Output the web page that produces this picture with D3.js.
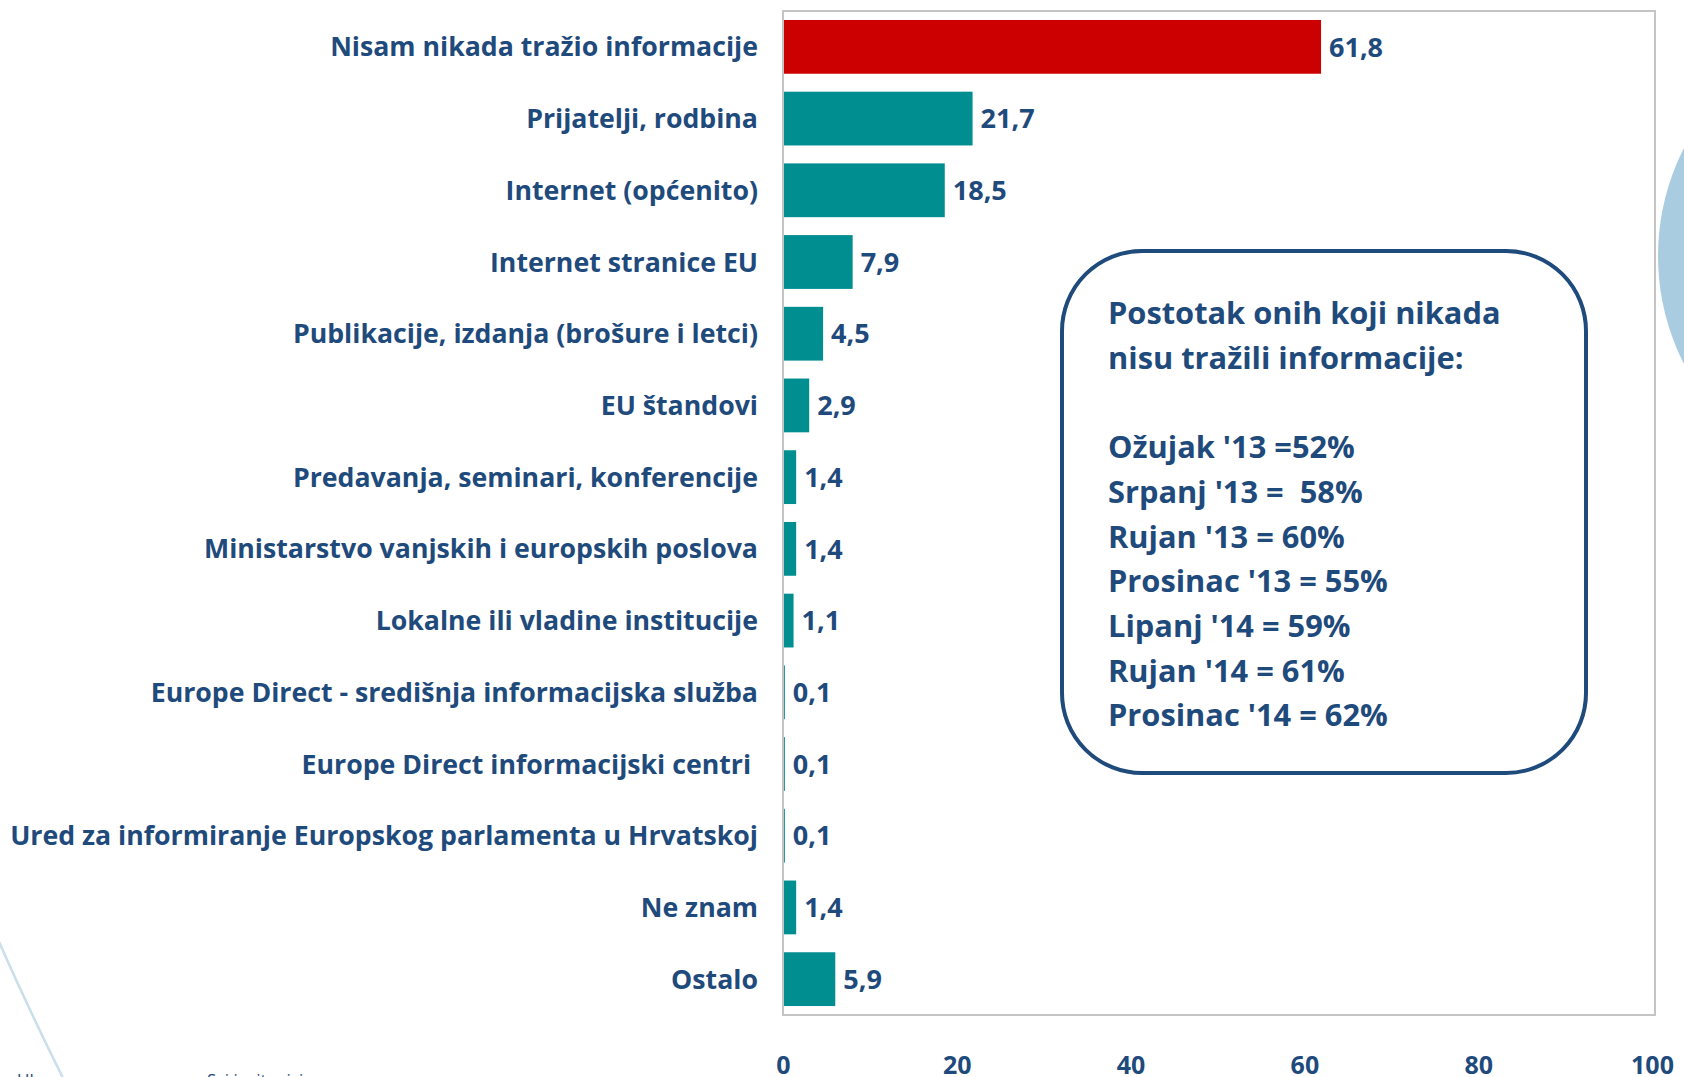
<!DOCTYPE html>
<html>
<head>
<meta charset="utf-8">
<script src="https://cdn.jsdelivr.net/npm/d3@7"></script>
<style>
  body { margin: 0; background: #fff; }
  svg text { font-family: "Open Sans", Lato, sans-serif; fill: #1F4A7C; white-space: pre; }
</style>
</head>
<body>
<div class="chart"></div>
<script>
// data
const categories = [
  "Nisam nikada tražio informacije",
  "Prijatelji, rodbina",
  "Internet (općenito)",
  "Internet stranice EU",
  "Publikacije, izdanja (brošure i letci)",
  "EU štandovi",
  "Predavanja, seminari, konferencije",
  "Ministarstvo vanjskih i europskih poslova",
  "Lokalne ili vladine institucije",
  "Europe Direct - središnja informacijska služba",
  "Europe Direct informacijski centri ",
  "Ured za informiranje Europskog parlamenta u Hrvatskoj",
  "Ne znam",
  "Ostalo"
];
const values = [61.8, 21.7, 18.5, 7.9, 4.5, 2.9, 1.4, 1.4, 1.1, 0.1, 0.1, 0.1, 1.4, 5.9];
const xTicks = [0, 20, 40, 60, 80, 100];
const boxLines = [
  "Postotak onih koji nikada",
  "nisu tražili informacije:",
  "",
  "Ožujak '13 =52%",
  "Srpanj '13 =  58%",
  "Rujan '13 = 60%",
  "Prosinac '13 = 55%",
  "Lipanj '14 = 59%",
  "Rujan '14 = 61%",
  "Prosinac '14 = 62%"
];

const W = 1684, H = 1077;
const margin = { top: 11, right: 32, bottom: 62, left: 783 };
const width = 1652 - margin.left, height = H - margin.top - margin.bottom;

const root = d3.select(".chart").append("svg")
  .attr("width", W).attr("height", H);

// decorative shapes from the slide
root.append("circle")
  .attr("cx", 1895).attr("cy", 256).attr("r", 237)
  .attr("fill", "#A9CCE0");
root.append("path")
  .attr("d", "M -4 935 Q 28 1008 64 1080")
  .attr("fill", "none").attr("stroke", "#C9DFEA").attr("stroke-width", 2.5);
root.append("text").attr("x", 17).attr("y", 1086)
  .style("font-size", "17px").style("font-weight", 400).text("Ukupno");
root.append("text").attr("x", 207).attr("y", 1086)
  .style("font-size", "17px").style("font-weight", 400).text("Svi ispitanici");

const svg = root.append("g")
  .attr("transform", `translate(${margin.left},${margin.top})`);

const xScale = d3.scaleLinear().domain([0, 100]).range([0, width]);
const yScale = d3.scaleBand().domain(categories).range([0, height])
  .paddingInner(0.25).paddingOuter(0.125);

// plot frame
svg.append("rect")
  .attr("x", 0).attr("y", 0)
  .attr("width", 1655 - margin.left).attr("height", height)
  .attr("fill", "none").attr("stroke", "#C4C4C4").attr("stroke-width", 2);

svg.selectAll(".bar")
  .data(categories)
  .join("rect")
  .attr("class", "bar")
  .attr("x", xScale(0) + 1)
  .attr("y", d => yScale(d))
  .attr("width", (d, i) => xScale(values[i]))
  .attr("height", yScale.bandwidth())
  .attr("fill", (d, i) => i === 0 ? "#CC0000" : "#008E91");

svg.selectAll(".val")
  .data(categories)
  .join("text")
  .attr("class", "val")
  .attr("x", (d, i) => xScale(values[i]) + 9)
  .attr("y", d => yScale(d) + yScale.bandwidth() / 2)
  .attr("dy", "0.36em")
  .style("font-size", "27px").style("font-weight", 700)
  .text((d, i) => String(values[i]).replace(".", ","));

// category labels
const yAxis = d3.axisLeft(yScale).tickSize(0).tickPadding(25);
svg.append("g").attr("class", "y-axis").call(yAxis)
  .call(g => g.select(".domain").remove())
  .selectAll("text")
  .attr("dy", "0.36em")
  .style("font-size", "26.7px").style("font-weight", 700)
  .attr("fill", "#1F4A7C");

// x tick labels only
const xAxis = d3.axisBottom(xScale).tickValues(xTicks).tickSize(0).tickPadding(0);
svg.append("g").attr("class", "x-axis")
  .attr("transform", `translate(0, ${height + 41})`)
  .call(xAxis)
  .call(g => g.select(".domain").remove())
  .selectAll("text")
  .style("font-size", "25px").style("font-weight", 700)
  .attr("fill", "#1F4A7C");

// rounded info box
root.append("rect")
  .attr("x", 1062).attr("y", 251)
  .attr("width", 524).attr("height", 522)
  .attr("rx", 80).attr("ry", 80)
  .attr("fill", "#fff").attr("stroke", "#1F4A7C").attr("stroke-width", 4);

root.append("g").selectAll("text")
  .data(boxLines)
  .join("text")
  .attr("x", 1108)
  .attr("y", (d, i) => 324 + i * 44.7)
  .style("font-size", "30.8px").style("font-weight", 700)
  .text(d => d);
</script>
</body>
</html>
